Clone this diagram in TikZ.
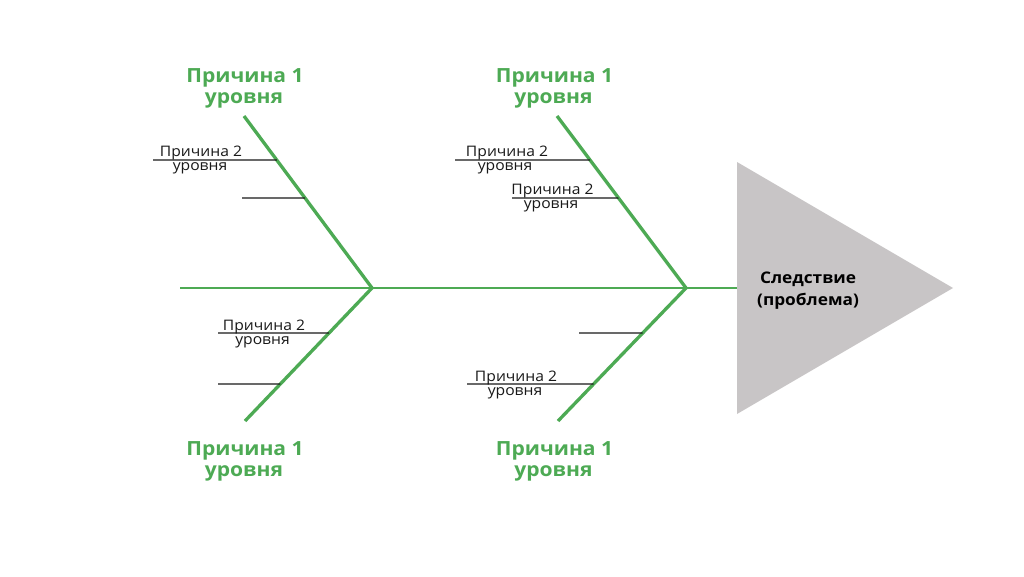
\documentclass[tikz,border=0pt]{standalone}
\usepackage{fontspec}
\setmainfont{Open Sans}[FakeStretch=1.08]
\usetikzlibrary{calc}
\definecolor{fishgreen}{RGB}{77,170,84}
\definecolor{headgray}{RGB}{200,197,198}
\definecolor{ribgray}{RGB}{25,25,25}
\begin{document}
\begin{tikzpicture}[x=1pt,y=-1pt,
  bone/.style={draw=fishgreen, line width=3.3pt},
  spine/.style={draw=fishgreen, line width=2.8pt},
  rib/.style={draw=ribgray, line width=1.1pt},
  cause/.style={font=\fontsize{19.5}{21}\selectfont\bfseries, text=fishgreen, inner sep=0, anchor=base},
  sub/.style={font=\fontsize{14.5}{15}\selectfont, text=ribgray, inner sep=0, anchor=base},
  effect/.style={font=\fontsize{16}{22}\selectfont\bfseries, text=black, inner sep=0, anchor=base}]
\useasboundingbox (0,0) rectangle (1024,576);
\fill[white] (0,0) rectangle (1024,576);

% skeleton points
\coordinate (tail) at (180,288);
\coordinate (j1) at (372,288);
\coordinate (j2) at (686,288);
\coordinate (hl) at (737,288);
\coordinate (u1) at (244,116);
\coordinate (d1) at (245,421);
\coordinate (u2) at (557,116);
\coordinate (d2) at (558,421);

% head
\coordinate (htop) at (737,162);
\coordinate (htip) at (953,288);
\coordinate (hbot) at (737,414);
\fill[headgray] (htop) -- (htip) -- (hbot) -- cycle;

% spine and bones
\draw[spine] (tail) -- (hl);
\draw[bone] (u1) -- (j1) -- (d1);
\draw[bone] (u2) -- (j2) -- (d2);

% ribs
\coordinate (lt1) at (153,160);
\coordinate (lt2) at (242,198);
\coordinate (lb1) at (218,333);
\coordinate (lb2) at (218,384);
\coordinate (rt1) at (455,160);
\coordinate (rt2) at (512,198);
\coordinate (rb1) at (579,333);
\coordinate (rb2) at (467,384);
\draw[rib] (lt1) -- ($(u1)!0.256!(j1)$);
\draw[rib] (lt2) -- ($(u1)!0.477!(j1)$);
\draw[rib] (lb1) -- ($(j1)!0.338!(d1)$);
\draw[rib] (lb2) -- ($(j1)!0.722!(d1)$);
\draw[rib] (rt1) -- ($(u2)!0.256!(j2)$);
\draw[rib] (rt2) -- ($(u2)!0.477!(j2)$);
\draw[rib] (rb1) -- ($(j2)!0.338!(d2)$);
\draw[rib] (rb2) -- ($(j2)!0.722!(d2)$);

% level 1 labels
\node[cause] (c1a) at (245,82) {Причина 1};
\node[cause] (c1b) at (244,103) {уровня};
\node[cause] (c2a) at (554.5,82) {Причина 1};
\node[cause] (c2b) at (553.5,103) {уровня};
\node[cause] (c3a) at (245,455) {Причина 1};
\node[cause] (c3b) at (244,476) {уровня};
\node[cause] (c4a) at (554.5,455) {Причина 1};
\node[cause] (c4b) at (553.5,476) {уровня};

% level 2 labels
\node[sub] (s1a) at (201,156) {Причина 2};
\node[sub] (s1b) at (200,170) {уровня};
\node[sub] (s2a) at (264,330) {Причина 2};
\node[sub] (s2b) at (262.5,344) {уровня};
\node[sub] (s3a) at (507,156) {Причина 2};
\node[sub] (s3b) at (505,170.5) {уровня};
\node[sub] (s4a) at (552.5,194) {Причина 2};
\node[sub] (s4b) at (551,208.5) {уровня};
\node[sub] (s5a) at (516,381) {Причина 2};
\node[sub] (s5b) at (515,395) {уровня};

% effect
\node[effect] (e1) at (808,283) {Следствие};
\node[effect] (e2) at (808,305) {(проблема)};
\end{tikzpicture}
\end{document}
